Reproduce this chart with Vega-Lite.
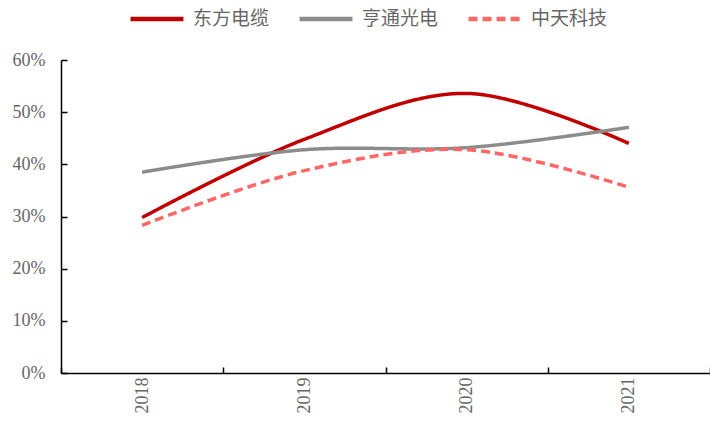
{
  "$schema": "https://vega.github.io/schema/vega-lite/v6.json",
  "autosize": "none",
  "width": 649,
  "height": 313,
  "padding": {"left": 61, "top": 60, "right": 0, "bottom": 53},
  "background": "white",
  "config": {"view": {"stroke": null}},
  "data": {
    "values": [
      {"year": "2018", "series": "东方电缆", "value": 0.298},
      {"year": "2019", "series": "东方电缆", "value": 0.448},
      {"year": "2020", "series": "东方电缆", "value": 0.536},
      {"year": "2021", "series": "东方电缆", "value": 0.440},
      {"year": "2018", "series": "亨通光电", "value": 0.385},
      {"year": "2019", "series": "亨通光电", "value": 0.428},
      {"year": "2020", "series": "亨通光电", "value": 0.432},
      {"year": "2021", "series": "亨通光电", "value": 0.471},
      {"year": "2018", "series": "中天科技", "value": 0.283},
      {"year": "2019", "series": "中天科技", "value": 0.388},
      {"year": "2020", "series": "中天科技", "value": 0.428},
      {"year": "2021", "series": "中天科技", "value": 0.356}
    ]
  },
  "mark": {"type": "line", "interpolate": "catmull-rom", "strokeWidth": 3.5, "strokeCap": "butt"},
  "encoding": {
    "x": {
      "field": "year", "type": "ordinal",
      "scale": {"paddingInner": 0, "paddingOuter": 0},
      "axis": {
        "title": null, "labelAngle": -90, "labelAlign": "right", "labelBaseline": "middle",
        "labelFont": "Liberation Serif", "labelFontSize": 18, "labelColor": "#666666", "labelPadding": 10,
        "tickBand": "extent", "tickSize": -6, "tickColor": "#000", "tickWidth": 1.5,
        "domainColor": "#000", "domainWidth": 1.5, "grid": false
      }
    },
    "y": {
      "field": "value", "type": "quantitative",
      "scale": {"domain": [0, 0.6]},
      "axis": {
        "title": null, "format": ".0%", "values": [0, 0.1, 0.2, 0.3, 0.4, 0.5, 0.6],
        "labelFont": "Liberation Serif", "labelFontSize": 18, "labelColor": "#666666", "labelPadding": 22,
        "tickSize": -6, "tickColor": "#000", "tickWidth": 1.5,
        "domainColor": "#000", "domainWidth": 1.5, "grid": false
      }
    },
    "color": {
      "field": "series", "type": "nominal",
      "scale": {"domain": ["东方电缆", "亨通光电", "中天科技"], "range": ["#C00000", "#8C8C8C", "#FF6666"]},
      "legend": {
        "title": null, "orient": "none", "direction": "horizontal", "legendX": 67, "legendY": -70,
        "symbolType": "stroke", "symbolSize": 2800, "symbolStrokeWidth": 4.5,
        "labelFont": "Noto Sans CJK SC", "labelFontSize": 19, "labelColor": "#666666",
        "labelOffset": 7, "columnPadding": 20
      }
    },
    "strokeDash": {
      "field": "series", "type": "nominal",
      "scale": {"domain": ["东方电缆", "亨通光电", "中天科技"], "range": [[1, 0], [1, 0], [9, 5]]},
      "legend": null
    }
  }
}
